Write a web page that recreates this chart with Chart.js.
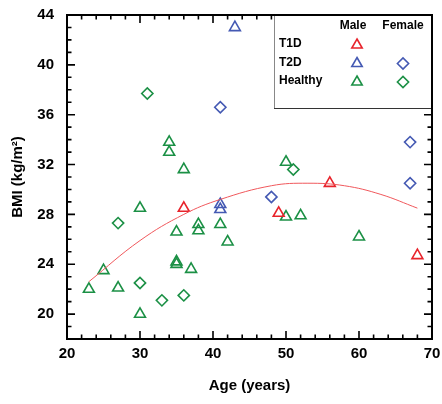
<!DOCTYPE html>
<html>
<head>
<meta charset="utf-8">
<script src="https://cdn.jsdelivr.net/npm/chart.js@4.4.1/dist/chart.umd.min.js"></script>
<style>
  html, body { margin: 0; padding: 0; background: #fff; }
</style>
</head>
<body>
<canvas id="bmiChart" width="442" height="404"></canvas>
<script>
// Values
const t1dMaleAge = [36, 49, 56, 68];
const t1dMaleBmi = [28.5, 28.1, 30.5, 24.7];

const t2dMaleAge = [43, 41, 41];
const t2dMaleBmi = [43.0, 28.8, 28.4];

const t2dFemaleAge = [41, 48, 67, 67];
const t2dFemaleBmi = [36.6, 29.4, 33.8, 30.5];

const healthyMaleAge = [23, 25, 27, 30, 30, 34, 34, 36, 35, 35, 35, 37, 38, 38, 41, 42, 50, 50, 52, 60];
const healthyMaleBmi = [22.0, 23.5, 22.1, 28.5, 20.0, 33.8, 33.0, 31.6, 26.6, 24.2, 24.0, 23.6, 27.2, 26.7, 27.2, 25.8, 32.2, 27.8, 27.9, 26.2];

const healthyFemaleAge = [31, 27, 30, 33, 36, 51];
const healthyFemaleBmi = [37.7, 27.3, 22.5, 21.1, 21.5, 31.6];

// trend line, read at a few ages along the drawn curve
const fitAge = [23, 30, 36, 41, 48, 53, 58, 63, 68];
const fitBmi = [22.6, 25.9, 28.0, 29.2, 30.3, 30.5, 30.3, 29.6, 28.5];

const xTicks = [20, 30, 40, 50, 60, 70];
const yTicks = [20, 24, 28, 32, 36, 40, 44];

const RED = '#e8232b';
const BLUE = '#4459b3';
const GREEN = '#1b9045';
const FONT = '"Liberation Sans", Arial, sans-serif';

function pts(xs, ys) {
  return xs.map((x, i) => ({ x: x, y: ys[i] }));
}

function markerSet(label, xs, ys, color, style) {
  return {
    label: label,
    data: pts(xs, ys),
    pointStyle: style,
    pointRadius: style === 'triangle' ? 6.3 : 5.6,
    borderColor: color,
    backgroundColor: 'rgba(0,0,0,0)',
    borderWidth: 1.6,
    showLine: false
  };
}

// frame with inward ticks on all four sides + the key box
const framePlugin = {
  id: 'frame',
  afterDraw(chart) {
    const { ctx, chartArea: a, scales: { x, y } } = chart;
    ctx.save();
    ctx.strokeStyle = '#000';
    ctx.lineWidth = 1.6;
    for (let v = 20; v <= 70; v += 2) {
      const p = x.getPixelForValue(v);
      const L = v % 10 === 0 ? 8 : 4.5;
      ctx.beginPath();
      ctx.moveTo(p, a.bottom); ctx.lineTo(p, a.bottom - L);
      ctx.moveTo(p, a.top); ctx.lineTo(p, a.top + L);
      ctx.stroke();
    }
    for (let v = 19; v <= 44; v += 1) {
      const p = y.getPixelForValue(v);
      const L = v % 4 === 0 ? 8 : 4.5;
      ctx.beginPath();
      ctx.moveTo(a.left, p); ctx.lineTo(a.left + L, p);
      ctx.moveTo(a.right, p); ctx.lineTo(a.right - L, p);
      ctx.stroke();
    }

    // key box
    const bl = a.right - 158, bt = a.top, bb = a.top + 93;
    ctx.fillStyle = '#fff';
    ctx.fillRect(bl, bt + 1, a.right - bl - 1, bb - bt - 1);
    ctx.lineWidth = 1;
    ctx.strokeStyle = '#888';
    ctx.beginPath(); ctx.moveTo(bl + 0.5, bt); ctx.lineTo(bl + 0.5, bb); ctx.stroke();
    ctx.strokeStyle = '#333';
    ctx.beginPath(); ctx.moveTo(bl, bb + 0.5); ctx.lineTo(a.right, bb + 0.5); ctx.stroke();

    ctx.font = 'bold 12px ' + FONT;
    ctx.textBaseline = 'middle';
    ctx.textAlign = 'center';
    const maleX = bl + 83, femaleX = bl + 129;
    ctx.fillStyle = '#000';
    ctx.fillText('Male', maleX - 4, bt + 11);
    ctx.fillText('Female', femaleX, bt + 11);
    ctx.textAlign = 'left';
    const rows = [
      ['T1D', RED, false],
      ['T2D', BLUE, true],
      ['Healthy', GREEN, true]
    ];
    rows.forEach((r, i) => {
      const ry = bt + 29 + i * 18.5;
      ctx.fillStyle = '#000';
      ctx.fillText(r[0], bl + 5, ry);
      ctx.lineWidth = 1.6;
      ctx.strokeStyle = r[1];
      ctx.fillStyle = 'rgba(0,0,0,0)';
      Chart.helpers.drawPoint(ctx, { pointStyle: 'triangle', radius: 6, borderWidth: 1.6 }, maleX, ry + 1);
      if (r[2]) {
        Chart.helpers.drawPoint(ctx, { pointStyle: 'rectRot', radius: 5.6, borderWidth: 1.6 }, femaleX, ry + 1);
      }
    });

    ctx.lineWidth = 2;
    ctx.strokeStyle = '#000';
    ctx.strokeRect(a.left, a.top, a.right - a.left, a.bottom - a.top);
    ctx.restore();
  }
};

new Chart(document.getElementById('bmiChart'), {
  type: 'scatter',
  data: {
    datasets: [
      {
        label: 'fit',
        data: pts(fitAge, fitBmi),
        showLine: true,
        borderColor: '#f0585c',
        borderWidth: 1,
        pointRadius: 0,
        tension: 0.4,
        fill: false
      },
      markerSet('T1D male', t1dMaleAge, t1dMaleBmi, RED, 'triangle'),
      markerSet('T2D male', t2dMaleAge, t2dMaleBmi, BLUE, 'triangle'),
      markerSet('T2D female', t2dFemaleAge, t2dFemaleBmi, BLUE, 'rectRot'),
      markerSet('Healthy male', healthyMaleAge, healthyMaleBmi, GREEN, 'triangle'),
      markerSet('Healthy female', healthyFemaleAge, healthyFemaleBmi, GREEN, 'rectRot')
    ]
  },
  options: {
    responsive: false,
    animation: false,
    layout: { padding: { top: 15, right: 10, left: 0, bottom: 0 } },
    plugins: { legend: { display: false }, tooltip: { enabled: false } },
    scales: {
      x: {
        type: 'linear',
        min: 20, max: 70,
        afterBuildTicks: s => { s.ticks = xTicks.map(v => ({ value: v })); },
        afterFit: s => { s.height = 65; s.paddingLeft = 0; s.paddingRight = 0; },
        grid: { display: false, drawTicks: false },
        border: { display: false },
        ticks: { color: '#000', padding: 6, font: { family: FONT, size: 15, weight: 'bold' } },
        title: {
          display: true, text: 'Age (years)', color: '#000',
          padding: { top: 0, bottom: 9 },
          font: { family: FONT, size: 15, weight: 'bold' }
        }
      },
      y: {
        type: 'linear',
        min: 18, max: 44,
        afterBuildTicks: s => { s.ticks = yTicks.map(v => ({ value: v })); },
        afterFit: s => { s.width = 67; s.paddingTop = 0; s.paddingBottom = 0; },
        grid: { display: false, drawTicks: false },
        border: { display: false },
        ticks: { color: '#000', padding: 13, font: { family: FONT, size: 15, weight: 'bold' } },
        title: {
          display: true, text: 'BMI (kg/m²)', color: '#000',
          padding: { top: 9, bottom: 0 },
          font: { family: FONT, size: 15, weight: 'bold' }
        }
      }
    }
  },
  plugins: [framePlugin]
});
</script>
</body>
</html>
